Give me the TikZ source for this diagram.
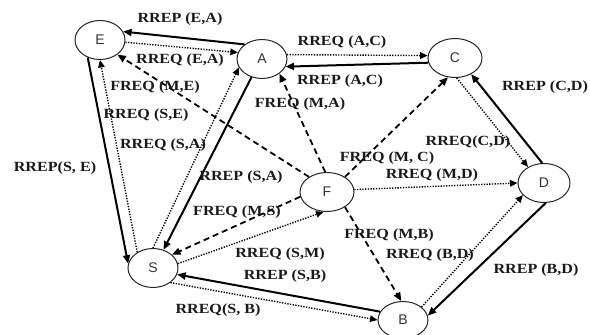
\documentclass[tikz,border=0pt]{standalone}
\usepackage{fontspec}
\setmainfont{Liberation Serif}
\newfontfamily\lblfont[FakeStretch=1.15]{Liberation Serif}
\newfontfamily\nodefont{Liberation Sans}
\usetikzlibrary{arrows.meta,shapes.geometric}
\tikzset{
  nd/.style={ellipse,draw=black!85,line width=1pt,minimum width=50pt,minimum height=39pt,inner sep=0pt,fill=white,text=black!80,font=\nodefont\fontsize{14}{14}\selectfont},
  lbl/.style={font=\lblfont\bfseries\fontsize{14}{15}\selectfont,inner sep=1pt,text=black!90},
  rep/.style={line width=2pt,-{Triangle[length=8.5pt,width=7pt]}},
  req/.style={line width=1.4pt,dash pattern=on 1.3pt off 1.4pt,-{Triangle[length=7.5pt,width=6.5pt]}},
  freq/.style={line width=1.8pt,dash pattern=on 6pt off 4pt,-{Triangle[length=8.5pt,width=7pt]}}
}
\begin{document}
\begin{tikzpicture}[x=1pt,y=-1pt]
\fill[white] (0,0) rectangle (590,335);
\useasboundingbox (0,0) rectangle (590,335);
% nodes
\node[nd] (E) at (100,40) {E};
\node[nd] (A) at (262,59) {A};
\node[nd,minimum width=54pt] (C) at (455,58) {C};
\node[nd,minimum width=52pt] (D) at (544,183) {D};
\node[nd,minimum width=54pt] (F) at (327,192) {F};
\node[nd] (S) at (153,268) {S};
\node[nd,minimum height=37pt] (B) at (403,320) {B};
% edges
\draw[rep] (A.140) -- (E.20);
\draw[req] (E.355) -- (A.165);
\draw[freq] (F.140) -- (E.-40);
\draw[req] (S.135) -- (E.270);
\draw[rep] (E.235) -- (S.170);
\draw[req] (S.90) -- (A.200);
\draw[rep] (A.240) -- (S.60);
\draw[req] (A.10) -- (C.175);
\draw[rep] (C.190) -- (A.-18);
\draw[freq] (F.95) -- (A.-40);
\draw[freq] (F.40) -- (C.250);
\draw[req] (C.-85) -- (D.135);
\draw[rep] (D.95) -- (C.-45);
\draw[req] (F.5) -- (D.180);
\draw[freq] (F.190) -- (S.35);
\draw[req] (S.10) -- (F.260);
\draw[rep] (B.160) -- (S.-15);
\draw[req] (S.-40) -- (B.180);
\draw[freq] (F.-40) -- (B.95);
\draw[req] (B.35) -- (D.210);
\draw[rep] (D.275) -- (B.10);
% labels
\node[lbl] (l1) at (180,19) {RREP (E,A)};
\node[lbl] (l2) at (180,60) {RREQ (E,A)};
\node[lbl] (l3) at (155,87) {FREQ (M,E)};
\node[lbl] (l4) at (146,115) {RREQ (S,E)};
\node[lbl] (l5) at (163,145) {RREQ (S,A)};
\node[lbl] (l6) at (55,168) {RREP(S, E)};
\node[lbl] (l7) at (342,42) {RREQ (A,C)};
\node[lbl] (l8) at (340,81) {RREP (A,C)};
\node[lbl] (l9) at (300,104) {FREQ (M,A)};
\node[lbl] (l10) at (545,87) {RREP (C,D)};
\node[lbl] (l11) at (468,142) {RREQ(C,D)};
\node[lbl] (l12) at (387,158) {FREQ (M, C)};
\node[lbl] (l13) at (432,175) {RREQ (M,D)};
\node[lbl] (l14) at (241,177) {RREP (S,A)};
\node[lbl] (l15) at (237,212) {FREQ (M,S)};
\node[lbl] (l16) at (280,254) {RREQ (S,M)};
\node[lbl] (l17) at (285,276) {RREP (S,B)};
\node[lbl] (l18) at (389,235) {FREQ (M,B)};
\node[lbl] (l19) at (430,255) {RREQ (B,D)};
\node[lbl] (l20) at (536,270) {RREP (B,D)};
\node[lbl] (l21) at (218,310) {RREQ(S, B)};
\end{tikzpicture}
\end{document}
